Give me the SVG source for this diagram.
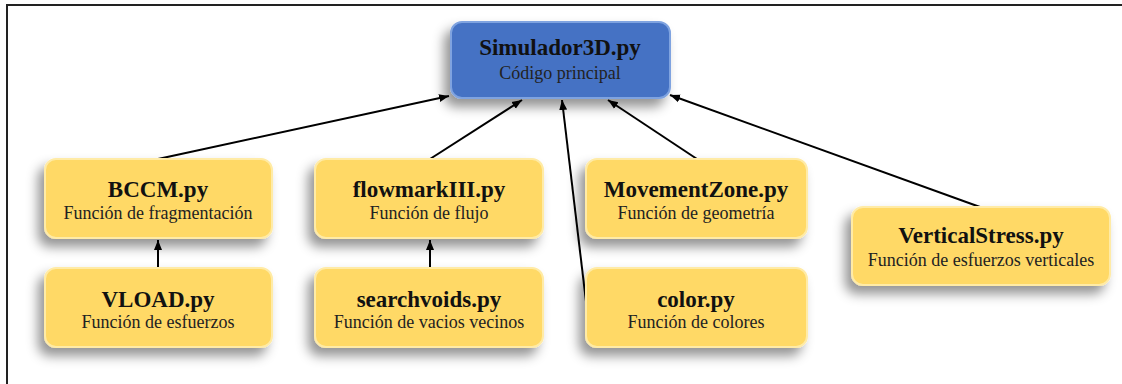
<svg xmlns="http://www.w3.org/2000/svg" width="1122" height="384" viewBox="0 0 1122 384">
<defs>
<filter id="sh" x="-20%" y="-30%" width="140%" height="180%">
<feDropShadow dx="-6" dy="8" stdDeviation="6" flood-color="#000" flood-opacity="0.42"/>
</filter>
<marker id="ah" viewBox="0 0 10 10" refX="10" refY="5" markerWidth="10" markerHeight="10" markerUnits="userSpaceOnUse" orient="auto">
<path d="M0,1 L10,5 L0,9 z" fill="#000"/>
</marker>
<style>
.y{fill:#FFD966;stroke:#FFEBA6;stroke-width:2;filter:url(#sh)}
.b{fill:#4472C4;stroke:#7FA3E0;stroke-width:2;filter:url(#sh)}
.t{font-family:"Liberation Serif",serif;font-weight:bold;font-size:23px;fill:#111;text-anchor:middle}
.s{font-family:"Liberation Serif",serif;font-size:18px;fill:#222;text-anchor:middle}
.c{stroke:#000;stroke-width:2;fill:none;marker-end:url(#ah)}
</style>
</defs>
<rect width="1122" height="384" fill="#fff"/>
<path d="M7,384 V5 H1122" fill="none" stroke="#222" stroke-width="2"/>
<g id="connectors">
<line class="c" x1="158" y1="159" x2="449" y2="96"/>
<line class="c" x1="430" y1="159" x2="522" y2="100"/>
<line class="c" x1="587" y1="310" x2="562" y2="100"/>
<line class="c" x1="697" y1="159" x2="608" y2="100"/>
<line class="c" x1="980" y1="207" x2="670" y2="95"/>
<line class="c" x1="158" y1="268" x2="158" y2="240"/>
<line class="c" x1="430" y1="268" x2="430" y2="240"/>
</g>
<g id="simulador3d">
<rect class="b" x="451" y="22" width="219" height="76" rx="11"/>
<text class="t" x="560" y="55">Simulador3D.py</text>
<text class="s" x="560" y="79">Código principal</text>
</g>
<g id="bccm">
<rect class="y" x="45" y="159" width="227" height="79" rx="11"/>
<text class="t" x="158" y="197">BCCM.py</text>
<text class="s" x="158" y="219">Función de fragmentación</text>
</g>
<g id="vload">
<rect class="y" x="45" y="268" width="227" height="79" rx="11"/>
<text class="t" x="158" y="307">VLOAD.py</text>
<text class="s" x="158" y="328">Función de esfuerzos</text>
</g>
<g id="flowmark">
<rect class="y" x="315" y="159" width="228" height="79" rx="11"/>
<text class="t" x="429" y="197">flowmarkIII.py</text>
<text class="s" x="429" y="219">Función de flujo</text>
</g>
<g id="searchvoids">
<rect class="y" x="315" y="268" width="228" height="79" rx="11"/>
<text class="t" x="429" y="307">searchvoids.py</text>
<text class="s" x="429" y="328">Función de vacios vecinos</text>
</g>
<g id="movementzone">
<rect class="y" x="586" y="159" width="221" height="79" rx="11"/>
<text class="t" x="696" y="197">MovementZone.py</text>
<text class="s" x="696" y="219">Función de geometría</text>
</g>
<g id="color">
<rect class="y" x="586" y="268" width="221" height="79" rx="11"/>
<text class="t" x="696" y="307">color.py</text>
<text class="s" x="696" y="328">Función de colores</text>
</g>
<g id="verticalstress">
<rect class="y" x="852" y="207" width="258" height="78" rx="11"/>
<text class="t" x="981" y="243">VerticalStress.py</text>
<text class="s" x="981" y="266">Función de esfuerzos verticales</text>
</g>
</svg>
